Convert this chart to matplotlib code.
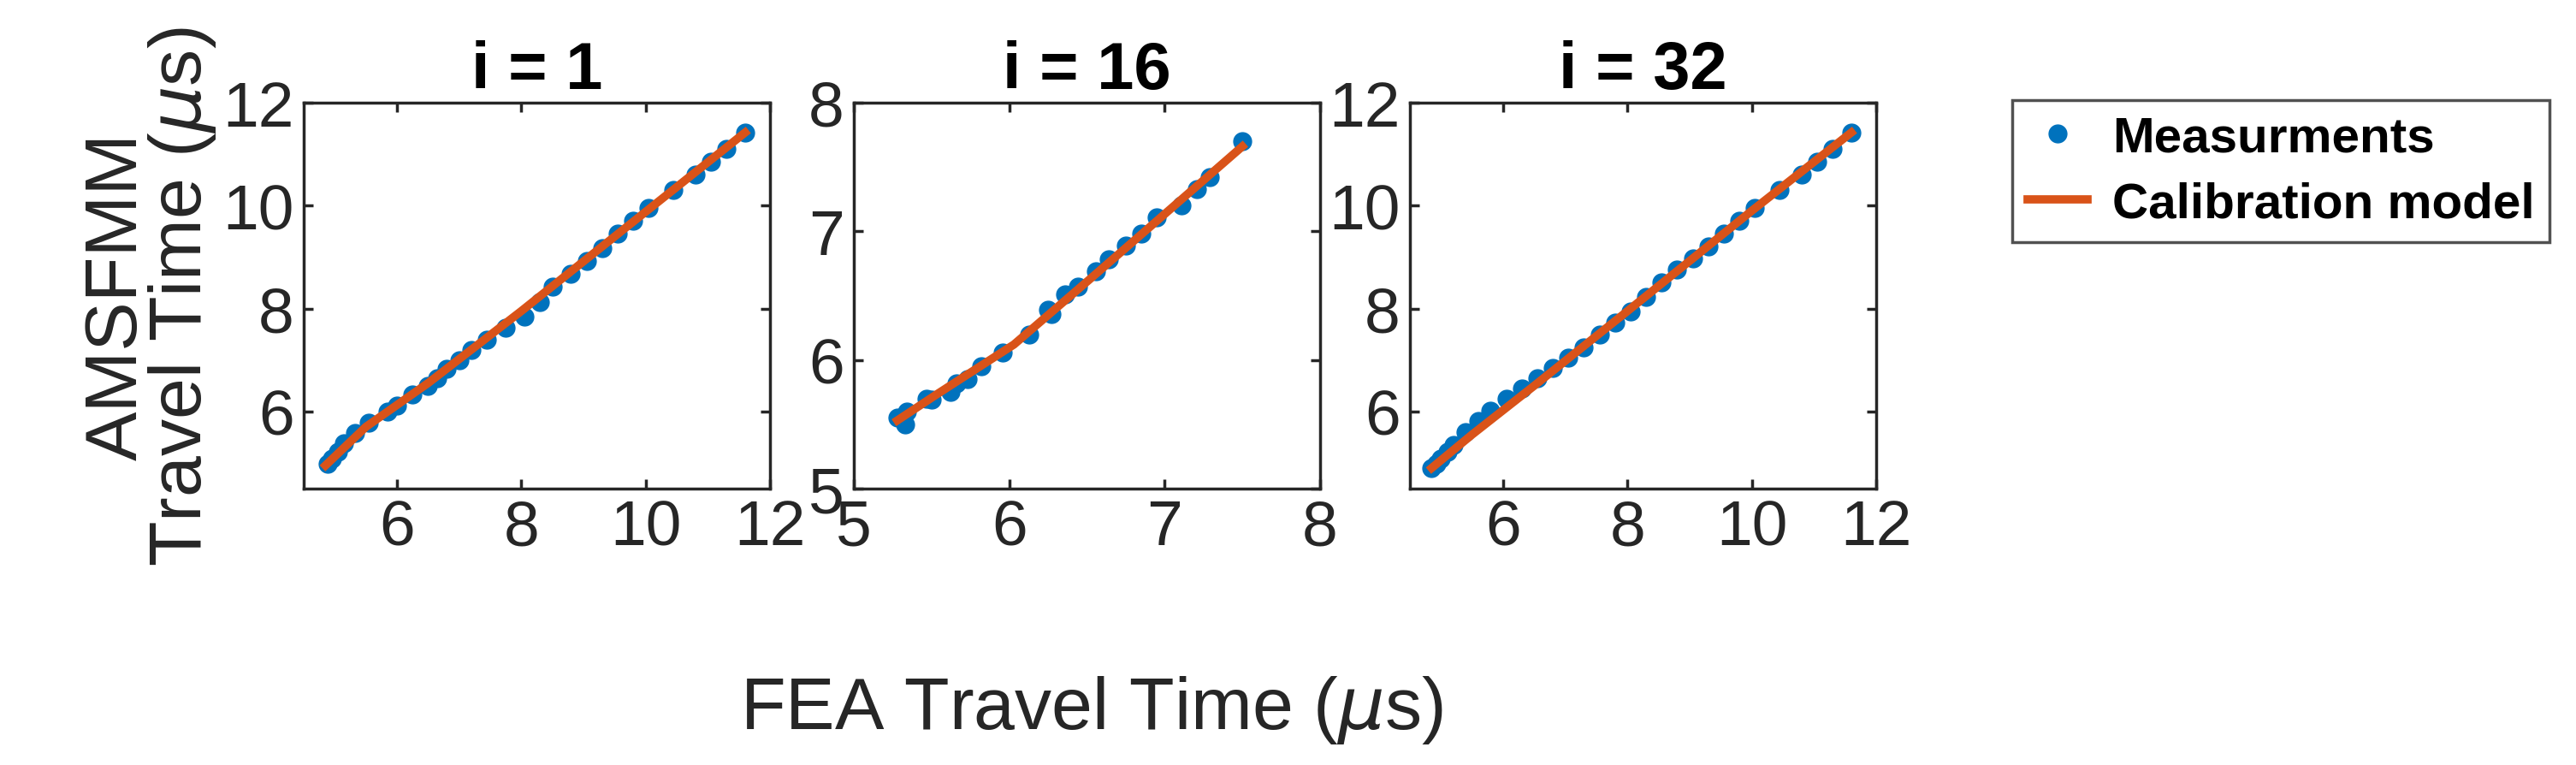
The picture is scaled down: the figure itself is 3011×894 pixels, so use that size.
import matplotlib.pyplot as plt

plt.rcParams['font.family'] = ['Liberation Sans', 'DejaVu Sans']
plt.rcParams['mathtext.fontset'] = 'dejavusans'

# measured points and calibration model for each panel
x1 = [4.88, 4.95, 5.05, 5.15, 5.32, 5.55, 5.85, 6.0, 6.25, 6.5, 6.65, 6.8, 7.0, 7.2, 7.45,
      7.75, 8.05, 8.3, 8.5, 8.8, 9.05, 9.3, 9.55, 9.8, 10.05, 10.45, 10.8, 11.05, 11.3, 11.6]
y1 = [4.98, 5.08, 5.22, 5.38, 5.58, 5.78, 6.0, 6.12, 6.33, 6.5, 6.65, 6.82, 7.0, 7.2, 7.4,
      7.62, 7.85, 8.12, 8.42, 8.68, 8.92, 9.18, 9.45, 9.7, 9.95, 10.3, 10.6, 10.85, 11.1, 11.42]
mx1 = [4.85, 5.5, 6.5, 8.0, 10.0, 11.6]
my1 = [4.95, 5.7, 6.55, 7.95, 9.88, 11.42]

x2 = [5.28, 5.33, 5.34, 5.47, 5.5, 5.62, 5.66, 5.73, 5.82, 5.96, 6.13, 6.25, 6.27, 6.36,
      6.44, 6.56, 6.64, 6.75, 6.85, 6.95, 7.11, 7.21, 7.29, 7.5]
y2 = [5.55, 5.5, 5.6, 5.7, 5.69, 5.75, 5.82, 5.85, 5.95, 6.06, 6.2, 6.39, 6.36, 6.51,
      6.57, 6.69, 6.78, 6.89, 6.98, 7.11, 7.2, 7.33, 7.42, 7.7]
mx2 = [5.28, 5.53, 6.03, 6.53, 7.5]
my2 = [5.53, 5.73, 6.12, 6.64, 7.66]

x3 = [4.85, 4.92, 5.0, 5.1, 5.2, 5.4, 5.6, 5.8, 6.05, 6.3, 6.55, 6.8, 7.05, 7.3, 7.55,
      7.8, 8.05, 8.3, 8.55, 8.8, 9.05, 9.3, 9.55, 9.8, 10.05, 10.45, 10.8, 11.05, 11.3, 11.6]
y3 = [4.9, 4.98, 5.08, 5.22, 5.35, 5.6, 5.82, 6.02, 6.25, 6.45, 6.65, 6.85, 7.05, 7.25, 7.5,
      7.72, 7.95, 8.22, 8.5, 8.75, 8.98, 9.2, 9.45, 9.7, 9.95, 10.3, 10.6, 10.85, 11.1, 11.42]
mx3 = [4.85, 5.5, 6.5, 8.0, 10.0, 11.6]
my3 = [4.9, 5.55, 6.5, 7.95, 9.9, 11.42]

panels = [("i = 1", x1, y1, mx1, my1, (4.5, 12), (4.5, 12), [6, 8, 10, 12]),
          ("i = 16", x2, y2, mx2, my2, (5, 8), (5, 8), [5, 6, 7, 8]),
          ("i = 32", x3, y3, mx3, my3, (4.5, 12), (4.5, 12), [6, 8, 10, 12])]

fig = plt.figure(figsize=(30.11, 8.95), dpi=100)
lefts = [355, 998, 1648]
W, H = 3011, 895
axes = []
for (title, x, y, mx, my, xl, yl, ticks), l in zip(panels, lefts):
    ax = fig.add_axes([l / W, 1 - 572 / H, 545 / W, 451 / H])
    ax.plot(x, y, 'o', color='#0072BD', markersize=15, label='Measurments')
    ax.plot(mx, my, '-', color='#D95319', linewidth=7, label='Calibration model')
    ax.set_xlim(xl)
    ax.set_ylim(yl)
    ax.set_xticks(ticks)
    ax.set_yticks(ticks)
    ax.tick_params(direction='in', labelsize=54, length=8, width=2.5, top=True, right=True,
                   colors='#262626', pad=8)
    for s in ax.spines.values():
        s.set_linewidth(2.5)
        s.set_color('#262626')
    ax.set_title(title, fontsize=56, fontweight='bold', pad=12)
    axes.append(ax)

axes[0].set_ylabel('AMSFMM\nTravel Time ($\\mu$s)', fontsize=62, color='#262626', labelpad=4,
                   linespacing=0.9)
fig.text(1276 / W, 1 - 830 / H, 'FEA Travel Time ($\\mu$s)', fontsize=62, color='#262626',
         ha='center', va='center')

h, lab = axes[0].get_legend_handles_labels()
leg = fig.legend(h, lab, loc='upper left', bbox_to_anchor=(2352 / W, 1 - 118 / H),
                 prop={'size': 42, 'weight': 'bold'}, frameon=True, fancybox=False,
                 edgecolor='#262626', handlelength=1.2, handletextpad=0.5,
                 borderpad=0.3, labelspacing=0.4, borderaxespad=0)
leg.get_frame().set_linewidth(2.5)

fig.savefig('out.png', dpi=100)
